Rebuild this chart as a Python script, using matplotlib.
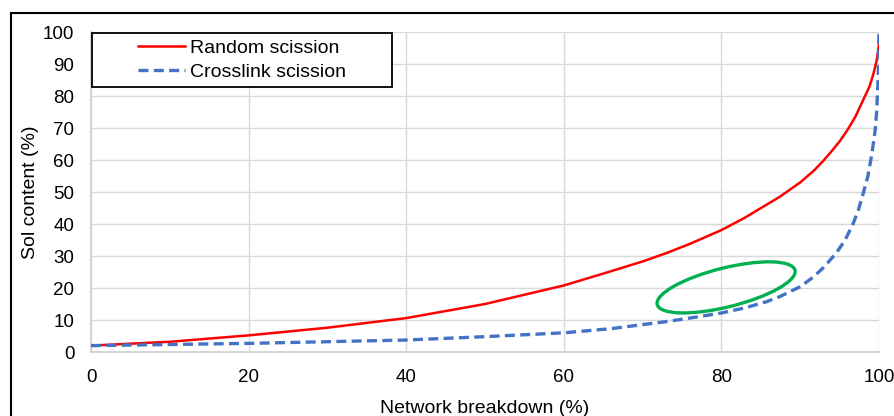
import matplotlib.pyplot as plt
from matplotlib.patches import Ellipse, Rectangle
from matplotlib.transforms import ScaledTranslation

plt.rcParams['font.family'] = ['Liberation Sans', 'DejaVu Sans']

# values
breakdown_random = [0, 10, 20, 30, 40, 50, 60, 65, 70, 73, 76, 80, 83, 85.7, 87.4, 90,
                    91.7, 92.8, 93.8, 95, 95.9, 97, 98, 98.8, 99.3, 99.7, 100]
sol_random = [2, 3.2, 5.2, 7.6, 10.6, 15, 20.8, 24.5, 28.3, 30.9, 33.8, 38.1, 42, 46, 48.5, 53,
              56.6, 59.4, 62.2, 65.8, 69, 73.5, 78.8, 83, 87, 91, 96]
breakdown_crosslink = [0, 20, 40, 50, 60, 66, 73, 77, 80, 83, 85.7, 87.4, 90, 91.7, 93, 94.6,
                       95.7, 96.7, 97.4, 98, 98.6, 99.1, 99.5, 99.7, 99.9, 100]
sol_crosslink = [2, 2.7, 3.75, 4.8, 6.0, 7.3, 9.5, 11, 12.2, 13.8, 15.7, 17.3, 20.4, 23.5, 26.5, 31,
                 35, 40, 44.5, 49.6, 55, 62, 69, 75, 86, 100]
labels = ['Random scission', 'Crosslink scission']

fig = plt.figure(figsize=(8.95, 4.16), dpi=100)
ax = fig.add_axes([0.1017, 0.1538, 0.8804, 0.7692])

ax.plot(breakdown_random, sol_random, color='#ff0000', lw=1.8, label=labels[0], zorder=3)
ax.plot(breakdown_crosslink, sol_crosslink, color='#4472c4', lw=2.4, ls=(0, (3.0, 1.6)),
        label=labels[1], zorder=3)

# green highlight ellipse (sized in inches, centred in data coords)
ell = Ellipse((0, 0), 1.42, 0.39, angle=14, fill=False, ec='#00b050', lw=2.4,
              transform=fig.dpi_scale_trans + ScaledTranslation(80.6, 20.2, ax.transData),
              zorder=4)
ax.add_patch(ell)

ax.set_xlim(0, 100)
ax.set_ylim(0, 100)
ax.set_xticks(range(0, 101, 20))
ax.set_yticks(range(0, 101, 10))
ax.grid(True, color='#d9d9d9', lw=1)
ax.set_axisbelow(True)
for s in ['top', 'right']:
    ax.spines[s].set_visible(False)
for s in ['left', 'bottom']:
    ax.spines[s].set_color('#d0d0d0')
    ax.spines[s].set_linewidth(1.2)
ax.tick_params(axis='both', length=0, labelsize=13.5, colors='black')
ax.tick_params(axis='x', pad=12.5)
ax.tick_params(axis='y', pad=12)
ax.set_xlabel('Network breakdown (%)', fontsize=14, labelpad=10)
ax.set_ylabel('Sol content (%)', fontsize=14, labelpad=3)

# legend box
ax.add_patch(Rectangle((0.001, 0.828), 0.381, 0.169, transform=ax.transAxes,
                       fc='white', ec='black', lw=1.3, zorder=5, clip_on=False))
leg = ax.legend(loc='center', bbox_to_anchor=(0.1915, 0.912), frameon=False, fontsize=14,
                handlelength=2.4, handletextpad=0.25, labelspacing=0.35, borderpad=0)
leg.set_zorder(6)

# outer border of the figure panel
fig.patches.append(Rectangle((11 / 895, -0.1), 1.1, 0.9688 + 0.1, transform=fig.transFigure,
                             fill=False, ec='black', lw=1.5))

fig.savefig('out.png', dpi=100)
